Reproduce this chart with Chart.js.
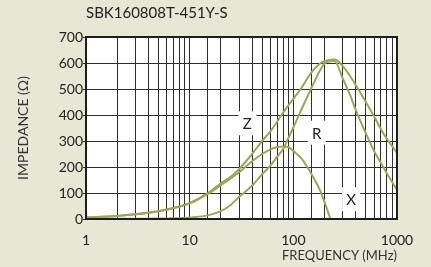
<!DOCTYPE html>
<html><head><meta charset="utf-8">
<script src="https://cdn.jsdelivr.net/npm/chart.js@4"></script>
<style>html,body{margin:0;padding:0;background:#e7e7d5;}#wrap{width:431px;height:267px;}</style>
</head><body><div id="wrap"><canvas id="c" width="431" height="267"></canvas></div>
<script>
const chartTitle = 'SBK160808T-451Y-S';
const xAxisTitle = 'FREQUENCY (MHz)';
const yAxisTitle = 'IMPEDANCE (Ω)';
const freqMHz = [1, 2, 3, 5, 7, 10, 15, 20, 25, 30, 40, 50, 60, 70, 80, 90, 100, 120, 150, 180, 200, 220, 250, 300, 350, 400, 500, 600, 700, 800, 1000];
const zValues = [6, 12, 18, 30, 42, 62, 100, 137, 163, 192, 250, 300, 337, 375, 410, 438, 462, 505, 565, 597, 607, 612, 613, 588, 552, 515, 450, 395, 345, 308, 255];
const rValues = [0.3, 0.5, 0.8, 1.5, 3, 6, 14, 30, 55, 85, 128, 172, 205, 240, 270, 313, 352, 422, 505, 570, 598, 606, 608, 540, 480, 420, 330, 262, 215, 175, 112];
const xValues = [6, 12, 18, 30, 42, 60, 97, 130, 157, 180, 222, 250, 268, 277, 279, 276, 262, 232, 172, 112, 65, 18, -50, null, null, null, null, null, null, null, null];
const yTickValues = [0, 100, 200, 300, 400, 500, 600, 700];
const xTickLabels = [1, 10, 100, 1000];
const curveNames = ['Z', 'R', 'X'];
const curveLabelFreq = [36, 168, 361];
const curveLabelValue = [368, 332, 76];

const FONT = 'Lato';
const curveColor = '#9ca55b';
const ink = '#222';

function series(vals){ return freqMHz.map((f,i)=>({x:f, y:vals[i]})); }

const bgPlugin = {
  id:'bg',
  beforeDraw(chart){
    const {ctx, chartArea:a} = chart;
    ctx.save();
    ctx.fillStyle = '#e7e7d5';
    ctx.fillRect(0,0,chart.width,chart.height);
    ctx.fillStyle = '#ffffff';
    ctx.fillRect(a.left,a.top,a.right-a.left,a.bottom-a.top);
    ctx.restore();
  },
  beforeDatasetsDraw(chart){
    const {ctx} = chart;
    const xs = chart.scales.x, ys = chart.scales.y;
    ctx.save();
    ctx.font = '15px ' + FONT;
    ctx.textAlign = 'center';
    ctx.textBaseline = 'middle';
    curveNames.forEach((n,i)=>{
      const px = xs.getPixelForValue(curveLabelFreq[i]);
      const py = ys.getPixelForValue(curveLabelValue[i]);
      ctx.fillStyle = '#ffffff';
      ctx.fillRect(px-9, py-12, 18, 24);
      ctx.fillStyle = ink;
      ctx.fillText(n, px, py+1);
    });
    ctx.restore();
  },
  afterDraw(chart){
    const {ctx, chartArea:a} = chart;
    ctx.save();
    ctx.strokeStyle = '#1e1e1e';
    ctx.lineWidth = 2;
    ctx.strokeRect(a.left, a.top, a.right-a.left, a.bottom-a.top);
    ctx.fillStyle = ink;
    ctx.font = '15px ' + FONT;
    ctx.textAlign = 'left';
    ctx.textBaseline = 'middle';
    ctx.fillText(chartTitle, a.left, 13);
    ctx.restore();
  }
};

new Chart(document.getElementById('c'), {
  type:'line',
  data:{ datasets:[
    {label:'Z', data:series(zValues)},
    {label:'R', data:series(rValues)},
    {label:'X', data:series(xValues)}
  ].map(d=>Object.assign(d,{borderColor:curveColor, borderWidth:2, pointRadius:0, fill:false, cubicInterpolationMode:'monotone', spanGaps:false}))},
  options:{
    responsive:false, animation:false, devicePixelRatio:1,
    layout:{padding:{left:15, right:34, top:37, bottom:0}},
    plugins:{legend:{display:false}, tooltip:{enabled:false}, title:{display:false}},
    scales:{
      x:{type:'logarithmic', min:1, max:1000, position:'bottom',
        afterFit(s){ s.height = 48; },
        grid:{color:'#2e2e2e', lineWidth:1, drawTicks:false},
        border:{display:false},
        ticks:{autoSkip:false, maxRotation:0, minRotation:0, padding:13, color:ink, font:{family:FONT, size:14},
          callback:(v)=> xTickLabels.includes(Number(v)) ? String(v) : ''},
        title:{display:true, text:xAxisTitle, align:'end', color:'#333', font:{family:FONT, size:13}, padding:{top:0, bottom:3}}
      },
      y:{min:0, max:700,
        afterFit(s){ s.width = 71; },
        afterBuildTicks(s){ s.ticks = yTickValues.map(v=>({value:v})); },
        grid:{color:'#2e2e2e', lineWidth:1, tickLength:3, drawTicks:true},
        border:{display:false},
        ticks:{padding:0, color:ink, font:{family:FONT, size:14}},
        title:{display:true, text:yAxisTitle, color:'#333', font:{family:FONT, size:14}, padding:0}
      }
    }
  },
  plugins:[bgPlugin]
});
</script></body></html>
